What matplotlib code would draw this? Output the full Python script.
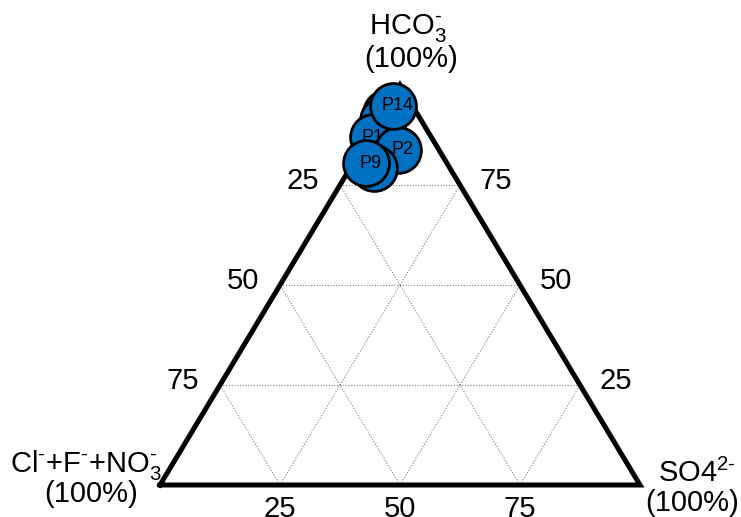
import matplotlib
matplotlib.use("Agg")
import matplotlib.pyplot as plt

plt.rcParams['font.family'] = ['Liberation Sans', 'DejaVu Sans']
plt.rcParams['mathtext.fontset'] = 'custom'
plt.rcParams['mathtext.rm'] = 'Liberation Sans'
plt.rcParams['mathtext.it'] = 'Liberation Sans'
plt.rcParams['mathtext.default'] = 'regular'

# sample composition (% of anions), Cl+F+NO3 = 100 - hco3 - so4
names = ['', '', '', '', 'P10', 'P2', '', 'P9', 'P14']
hco3 = [93.0, 91.2, 85.8, 81.2, 87.0, 83.8, 79.2, 80.5, 94.8]
so4 = [0.6, 0.8, 3.0, 4.8, 0.9, 7.7, 5.0, 2.7, 1.1]
ticks = [25, 50, 75]

def to_xy(h, s):
    # ternary -> cartesian, base 0..100, apex at y=100
    return s + h / 2.0, h

fig = plt.figure(figsize=(7.41, 5.17), dpi=100)
ax = fig.add_axes([160 / 741, 32 / 517, 480 / 741, 400 / 517])
ax.set_xlim(0, 100)
ax.set_ylim(0, 100)
ax.axis('off')

# grid
gkw = dict(color='#808080', lw=0.8, ls=(0, (1, 1.5)), zorder=1)
for k in ticks:
    ax.plot([k / 2, 100 - k / 2], [k, k], **gkw)                    # HCO3 = k
    ax.plot([k, k + (100 - k) / 2], [0, 100 - k], **gkw)            # SO4 = k
    ax.plot([100 - k, (100 - k) / 2], [0, 100 - k], **gkw)          # Cl = k

# frame
ax.plot([0, 100, 50, 0], [0, 0, 100, 0], color='black', lw=3.6,
        solid_joinstyle='miter', clip_on=False, zorder=2)

# tick labels
fs = 21
for k in ticks:
    x, y = to_xy(100 - k, 0)
    ax.annotate(str(k), (x, y), xytext=(-15, 3), textcoords='offset points',
                ha='right', va='center', fontsize=fs)
    x, y = to_xy(k, 100 - k)
    ax.annotate(str(k), (x, y), xytext=(14, 3), textcoords='offset points',
                ha='left', va='center', fontsize=fs)
    ax.annotate(str(k), (k, 0), xytext=(0, -17), textcoords='offset points',
                ha='center', va='center', fontsize=fs)

# vertex labels
sup = r'$^{\text{-}}$'
fig.text(408 / 741, 1 - 28 / 517, r'HCO$_3^{\text{-}}$', ha='center', va='center', fontsize=fs)
fig.text(411 / 741, 1 - 59 / 517, '(100%)', ha='center', va='center', fontsize=fs)
fig.text(86 / 741, 1 - 465 / 517, 'Cl' + sup + '+F' + sup + r'+NO$_3^{\text{-}}$',
         ha='center', va='center', fontsize=fs)
fig.text(91 / 741, 1 - 494 / 517, '(100%)', ha='center', va='center', fontsize=fs)
fig.text(697 / 741, 1 - 473 / 517, r'SO4$^{\text{2-}}$', ha='center', va='center', fontsize=fs)
fig.text(692 / 741, 1 - 503 / 517, '(100%)', ha='center', va='center', fontsize=fs)

# samples
for i, (n, h, s) in enumerate(zip(names, hco3, so4)):
    x, y = to_xy(h, s)
    ax.scatter([x], [y], s=33 ** 2, color='#0070C0', edgecolor='black',
               linewidth=2, zorder=3 + i, clip_on=False)
    if n:
        ax.text(x + 1, y, n, ha='center', va='center', fontsize=13,
                zorder=3 + i + 0.5)

fig.savefig('out.png', dpi=100)
